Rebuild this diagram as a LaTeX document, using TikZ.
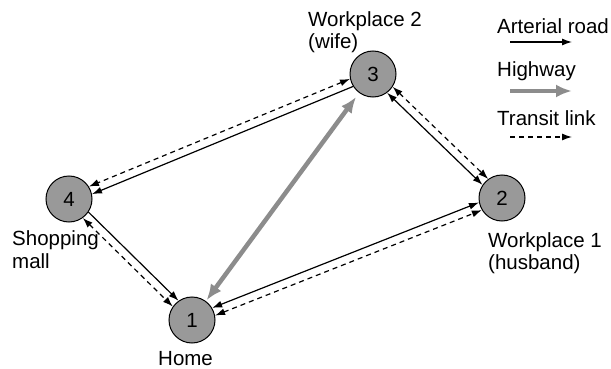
\documentclass[tikz,border=0pt]{standalone}
\usepackage{fontspec}
\setmainfont{Liberation Sans}
\usetikzlibrary{arrows.meta}
\definecolor{nodegray}{RGB}{153,153,153}
\definecolor{hwgray}{RGB}{140,140,140}
\begin{document}
\begin{tikzpicture}[x=1pt,y=-1pt,
  place/.style={circle,draw=black,line width=1pt,fill=nodegray,minimum size=46pt,inner sep=0pt,font=\fontsize{20.5}{22}\selectfont},
  lbl/.style={anchor=base west,inner sep=0pt,font=\fontsize{20.5}{22}\selectfont},
  road/.style={draw=black,line width=1.2pt,arrows={-Latex[length=10pt,width=7pt]}},
  roadboth/.style={road,arrows={Latex[length=10pt,width=7pt]-Latex[length=10pt,width=7pt]}},
  transit/.style={draw=black,line width=1.2pt,dash pattern=on 5pt off 4pt,arrows={Latex[length=10pt,width=7pt]-Latex[length=10pt,width=7pt]}},
  transitone/.style={transit,arrows={-Latex[length=10pt,width=7pt]}},
  highway/.style={draw=hwgray,line width=4.5pt,arrows={Latex[length=16pt,width=13pt]-Latex[length=16pt,width=13pt]}},
  highwayone/.style={highway,arrows={-Latex[length=16pt,width=13pt]}}
]
\useasboundingbox (0,0) rectangle (611,369);
% nodes
\node[place] (n1) at (192,320) {1};
\node[place] (n2) at (502,198) {2};
\node[place] (n3) at (373,74) {3};
\node[place] (n4) at (69,199) {4};
% labels
\node[lbl] (l3a) at (308,27) {Workplace 2};
\node[lbl] (l3b) at (308,49) {(wife)};
\node[lbl] (l4a) at (12,245) {Shopping};
\node[lbl] (l4b) at (12,268) {mall};
\node[lbl] (l1) at (158,365) {Home};
\node[lbl] (l2a) at (488,247) {Workplace 1};
\node[lbl] (l2b) at (488,269) {(husband)};
% connectors
\draw[road] (n4.-34.5) -- (n1.125.5);
\draw[transit] (n4.-54.5) -- (n1.145.5);
\draw[road] (n3.212.4) -- (n4.12.4);
\draw[transit] (n3.192.4) -- (n4.32.4);
\draw[roadboth] (n1.31.5) -- (n2.191.5);
\draw[transit] (n1.11.5) -- (n2.211.5);
\draw[roadboth] (n3.-53.9) -- (n2.146.1);
\draw[transit] (n3.-33.9) -- (n2.126.1);
\draw[highway,shorten <=1pt,shorten >=5pt] (n1) -- (n3);
% legend
\node[lbl] (k1) at (497,34) {Arterial road};
\node[lbl] (k2) at (497,77) {Highway};
\node[lbl] (k3) at (497,125) {Transit link};
\coordinate (a1s) at (510,42);
\coordinate (a1e) at (572,42);
\coordinate (a2s) at (510,91);
\coordinate (a2e) at (572,91);
\coordinate (a3s) at (510,137);
\coordinate (a3e) at (572,137);
\draw[road] (a1s) -- (a1e);
\draw[highwayone] (a2s) -- (a2e);
\draw[transitone] (a3s) -- (a3e);
\end{tikzpicture}
\end{document}
